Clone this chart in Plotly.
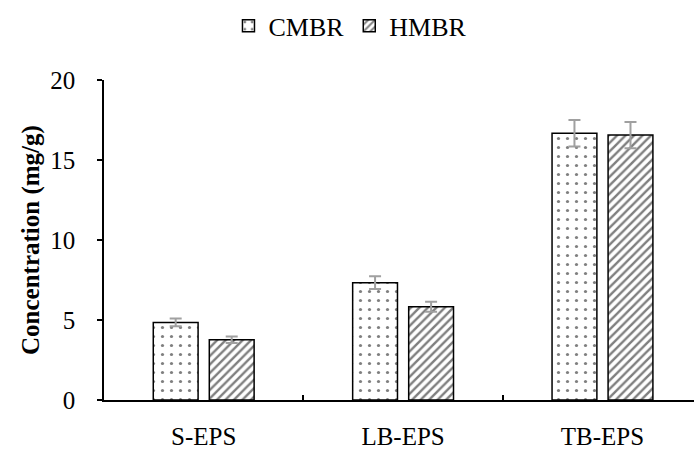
import plotly.graph_objects as go

categories = ["S-EPS", "LB-EPS", "TB-EPS"]
cmbr = [4.85, 7.33, 16.67]
cmbr_err = [0.24, 0.40, 0.83]
hmbr = [3.77, 5.83, 16.56]
hmbr_err = [0.20, 0.31, 0.82]
y_ticks = [0, 5, 10, 15, 20]

FONT = "Liberation Serif"

fig = go.Figure()
fig.add_trace(go.Bar(
    name="CMBR", x=categories, y=cmbr,
    error_y=dict(type="data", array=cmbr_err, color="#a0a0a0", thickness=2, width=6),
    marker=dict(color="white", line=dict(color="black", width=1.5),
                pattern=dict(shape=".", fgcolor="black", bgcolor="white", size=9, solidity=0.1)),
))
fig.add_trace(go.Bar(
    name="HMBR", x=categories, y=hmbr,
    error_y=dict(type="data", array=hmbr_err, color="#a0a0a0", thickness=2, width=6),
    marker=dict(color="white", line=dict(color="black", width=1.5),
                pattern=dict(shape="/", fgcolor="black", bgcolor="white", size=6, solidity=0.4)),
))

fig.update_layout(
    width=694, height=450,
    margin=dict(l=104, r=0, t=80, b=50),
    paper_bgcolor="white", plot_bgcolor="white",
    font=dict(family=FONT, size=25, color="black"),
    barmode="group", bargap=0.438, bargroupgap=0.2,
    showlegend=True,
    legend=dict(orientation="h", xref="container", yref="container",
                x=0.505, xanchor="center", y=0.995, yanchor="top",
                font=dict(family=FONT, size=26), itemwidth=30,
                bgcolor="rgba(0,0,0,0)"),
    xaxis=dict(range=[-0.5, 2.459], showline=True, linecolor="black", linewidth=1.5,
               ticks="inside", tickson="boundaries", ticklen=5, tickcolor="black",
               tickwidth=1.5, ticklabelstandoff=13, showgrid=False, zeroline=False,
               tickfont=dict(family=FONT, size=25)),
    yaxis=dict(range=[0, 20], tickvals=y_ticks, showline=True, linecolor="black",
               linewidth=1.5, ticks="outside", ticklen=5, tickcolor="black", tickwidth=1.5,
               ticklabelstandoff=17, showgrid=False, zeroline=False,
               tickfont=dict(family=FONT, size=25)),
    annotations=[dict(text="<b>Concentration (mg/g)</b>", textangle=-90,
                      xref="paper", yref="paper", x=(31 - 104) / 590, y=0.5,
                      xanchor="center", yanchor="middle", showarrow=False,
                      font=dict(family=FONT, size=25))],
)

fig.write_html("out.html")
